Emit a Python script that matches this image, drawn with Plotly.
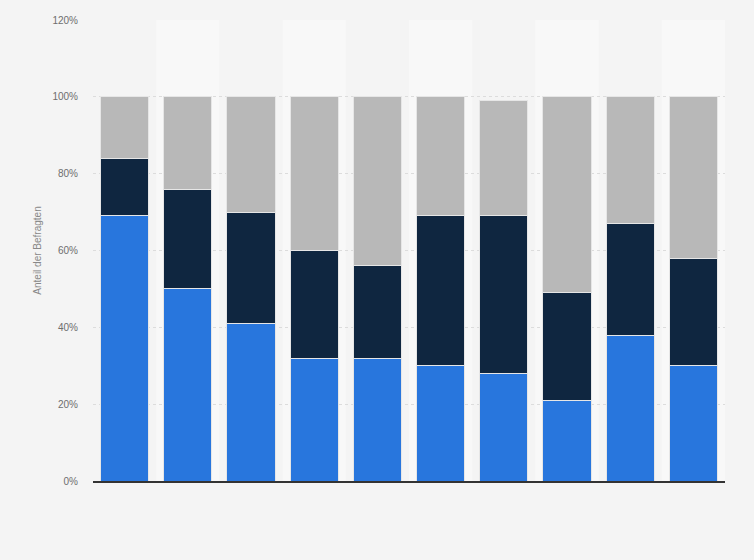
import plotly.graph_objects as go

categories = ["1", "2", "3", "4", "5", "6", "7", "8", "9", "10"]
series_names = ["Ja", "Teilweise", "Nein"]
blue_vals = [69, 50, 41, 32, 32, 30, 28, 21, 38, 30]
dark_vals = [15, 26, 29, 28, 24, 39, 41, 28, 29, 28]
gray_vals = [16, 24, 30, 40, 44, 31, 30, 51, 33, 42]
y_ticks = [0, 20, 40, 60, 80, 100, 120]
y_tick_labels = [f"{v}%" for v in y_ticks]

colors = ["#2876dd", "#0f2640", "#b8b8b8"]

fig = go.Figure()
for name, vals, col in zip(series_names, [blue_vals, dark_vals, gray_vals], colors):
    fig.add_trace(go.Bar(
        x=categories, y=vals, name=name,
        marker=dict(color=col, line=dict(color="#e6e6e6", width=1)),
    ))

shapes = []
for i, c in enumerate(categories):
    if i % 2 == 1:
        shapes.append(dict(type="rect", xref="x", yref="paper",
                           x0=i - 0.5, x1=i + 0.5, y0=0, y1=1,
                           fillcolor="#f8f8f8", line=dict(width=0), layer="below"))

fig.update_layout(
    width=754, height=560,
    barmode="stack", bargap=0.24,
    paper_bgcolor="#f4f4f4", plot_bgcolor="#f4f4f4",
    margin=dict(l=93, r=29, t=20, b=79),
    showlegend=False,
    shapes=shapes,
    font=dict(family="Liberation Sans, Arial, sans-serif", size=10, color="#666666"),
    xaxis=dict(showticklabels=False, showgrid=False, showline=True,
               linecolor="#333333", linewidth=1.5, range=[-0.5, 9.5], ticks=""),
    yaxis=dict(range=[0, 120], tickmode="array", tickvals=y_ticks, ticktext=y_tick_labels,
               showgrid=True, gridcolor="#dcdcdc", griddash="dot", gridwidth=1,
               zeroline=False, ticks="outside", ticklen=12, tickcolor="rgba(0,0,0,0)",
               tickfont=dict(size=10, color="#6e6e6e"),
               title=dict(text="Anteil der Befragten", standoff=8,
                          font=dict(size=10, color="#888888"))),
)

fig.write_html("out.html", config={"displayModeBar": False},
               post_script="document.body.style.margin='0';")
